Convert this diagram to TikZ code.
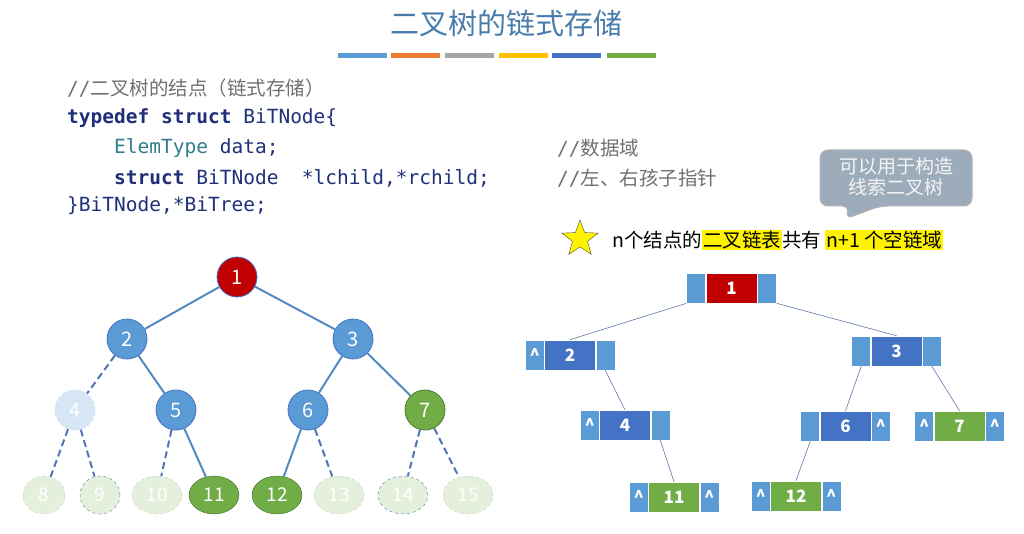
\documentclass[tikz,border=0pt]{standalone}
\usepackage{fontspec}
\setmainfont{Noto Sans CJK SC}
\newfontfamily\cjk{Noto Sans CJK SC}
\setmonofont{DejaVu Sans Mono}
\usetikzlibrary{shapes.geometric,calc}
\definecolor{lb}{HTML}{5B9BD5}
\definecolor{db}{HTML}{4472C4}
\definecolor{gr}{HTML}{70AD47}
\definecolor{rd}{HTML}{C00000}
\definecolor{fg}{HTML}{E4EFDC}
\definecolor{kw}{HTML}{1F2F7A}
\definecolor{cm}{HTML}{707070}
\definecolor{et}{HTML}{2E7D8C}
\tikzset{
 tn/.style={circle,minimum size=40pt,inner sep=0pt,draw=db,line width=0.8pt,text=white,font=\fontsize{20}{20}\selectfont},
 lf/.style={ellipse,minimum width=50pt,minimum height=38pt,inner sep=0pt,text=white,font=\fontsize{19}{19}\selectfont},
 ghost/.style={lf,fill=fg,draw=fg!70!gray,dashed},
 edge/.style={draw=lb!90!black,line width=2pt},
 dedge/.style={edge,dash pattern=on 7pt off 4pt,draw=db!80!gray},
 cell/.style={rectangle,inner sep=0pt,minimum height=30pt,draw=white,line width=0.6pt,text=white,font=\bfseries\fontsize{17}{17}\selectfont},
 thin/.style={draw=db!60!gray,line width=0.6pt},
 code/.style={anchor=west,font=\ttfamily\fontsize{19.5}{20}\selectfont,inner sep=0pt},
}
\newcommand\lnode[7]{%
 \node[cell,fill=lb,minimum width=19pt,anchor=east] (#1l) at (#2-25.5,#3) {#6};
 \node[cell,fill=#5,minimum width=51pt] (#1d) at (#2,#3) {#4};
 \node[cell,fill=lb,minimum width=19pt,anchor=west] (#1r) at (#2+25.5,#3) {#7};}
\begin{document}
\begin{tikzpicture}[x=1pt,y=-1pt]
\useasboundingbox (0,0) rectangle (1024,534);
\node[text=lb!80!black,font=\fontsize{29}{29}\selectfont] (title) at (506,23) {二叉树的链式存储};
\foreach \a/\c in {338/5B9BD5,391/ED7D31,445/A5A5A5,499/FFC000,552/4472C4,607/70AD47}{
 \definecolor{barc}{HTML}{\c}
 \fill[barc] (\a,53) rectangle (\a+49,58);}
% code
\node[code,text=cm] (c1) at (67,88) {//{\cjk 二叉树的结点（链式存储）}};
\node[code,text=kw] (c2) at (67,118) {\bfseries typedef struct {\mdseries BiTNode\{}};
\node[code,text=et] (c3) at (67,148) {\phantom{xxxx}ElemType {\color{kw}data;}};
\node[code,text=kw] (c4) at (67,178) {\phantom{xxxx}\textbf{struct} BiTNode\ \ *lchild,*rchild;};
\node[code,text=kw] (c5) at (67,206) {\}BiTNode,*BiTree;};
\node[code,text=cm] (m1) at (557,148) {//{\cjk 数据域}};
\node[code,text=cm] (m2) at (557,178) {//{\cjk 左、右孩子指针}};
% callout
\draw[fill=gray!65!lb!70!white,draw=gray!60,line width=1pt,rounded corners=8pt]
 (820,150) -- (972,150) -- (972,206) -- (880,206) -- (845,219) -- (850,206) -- (820,206) -- cycle;
\node[text=white!92!gray,align=center,font=\fontsize{19}{21}\selectfont] (callout) at (896,177) {可以用于构造\\线索二叉树};
% star line
\node[star,star points=5,star point ratio=2.4,fill=yellow,draw=gray!60!black,minimum size=38pt,inner sep=0pt] (star) at (580,239) {};
\setlength\fboxsep{1pt}
\node[anchor=west,inner sep=0pt,font=\fontsize{19.5}{21}\selectfont] (fact) at (612,240)
 {n个结点的\colorbox{yellow}{二叉链表}共有 \colorbox{yellow}{n+1 个空链域}};
% left tree
\node[tn,fill=rd] (t1) at (237,277) {1};
\node[tn,fill=lb] (t2) at (127,339) {2};
\node[tn,fill=lb] (t3) at (353,339) {3};
\node[tn,fill=lb!25,draw=lb!30,dashed] (t4) at (75,410) {4};
\node[tn,fill=lb] (t5) at (176,410) {5};
\node[tn,fill=lb] (t6) at (308,410) {6};
\node[tn,fill=gr,draw=gr!70!black] (t7) at (425,410) {7};
\node[ghost,minimum width=42pt] (t8) at (44,495) {8};
\node[ghost,minimum width=40pt,draw=db!70!gray] (t9) at (100,495) {9};
\node[ghost] (t10) at (157,495) {10};
\node[lf,fill=gr,draw=gr!60!black] (t11) at (214,495) {11};
\node[lf,fill=gr,draw=gr!60!black] (t12) at (277,495) {12};
\node[ghost] (t13) at (339,495) {13};
\node[ghost,draw=db!70!gray] (t14) at (403,495) {14};
\node[ghost] (t15) at (468,495) {15};
\draw[edge] (t1) -- (t2); \draw[edge] (t1) -- (t3);
\draw[edge] (t2) -- (t5); \draw[edge] (t3) -- (t6); \draw[edge] (t3) -- (t7);
\draw[edge] (t5) -- (t11); \draw[edge] (t6) -- (t12);
\draw[dedge] (t2) -- (t4); \draw[dedge] (t4) -- (t8); \draw[dedge] (t4) -- (t9);
\draw[dedge] (t5) -- (t10); \draw[dedge] (t6) -- (t13);
\draw[dedge] (t7) -- (t14); \draw[dedge] (t7) -- (t15);
% right linked tree
\lnode{a}{731.5}{288}{1}{rd}{}{}
\lnode{b}{570}{355}{2}{db}{\^{}}{}
\lnode{c}{896.5}{351}{3}{db}{}{}
\lnode{d}{625}{425}{4}{db}{\^{}}{}
\lnode{f}{845.5}{426}{6}{db}{}{\^{}}
\lnode{g}{959.5}{426}{7}{gr}{\^{}}{\^{}}
\lnode{k}{674}{497}{11}{gr}{\^{}}{\^{}}
\lnode{m}{796}{496}{12}{gr}{\^{}}{\^{}}
\draw[thin] (al.south west) -- (bd.north);
\draw[thin] (ar.south east) -- (cd.north);
\draw[thin] (br.south) -- (dd.north);
\draw[thin] (cl.south) -- (fd.north);
\draw[thin] (cr.south) -- (gd.north);
\draw[thin] (dr.south) -- (kd.north);
\draw[thin] (fl.south) -- (md.north);
\end{tikzpicture}
\end{document}
